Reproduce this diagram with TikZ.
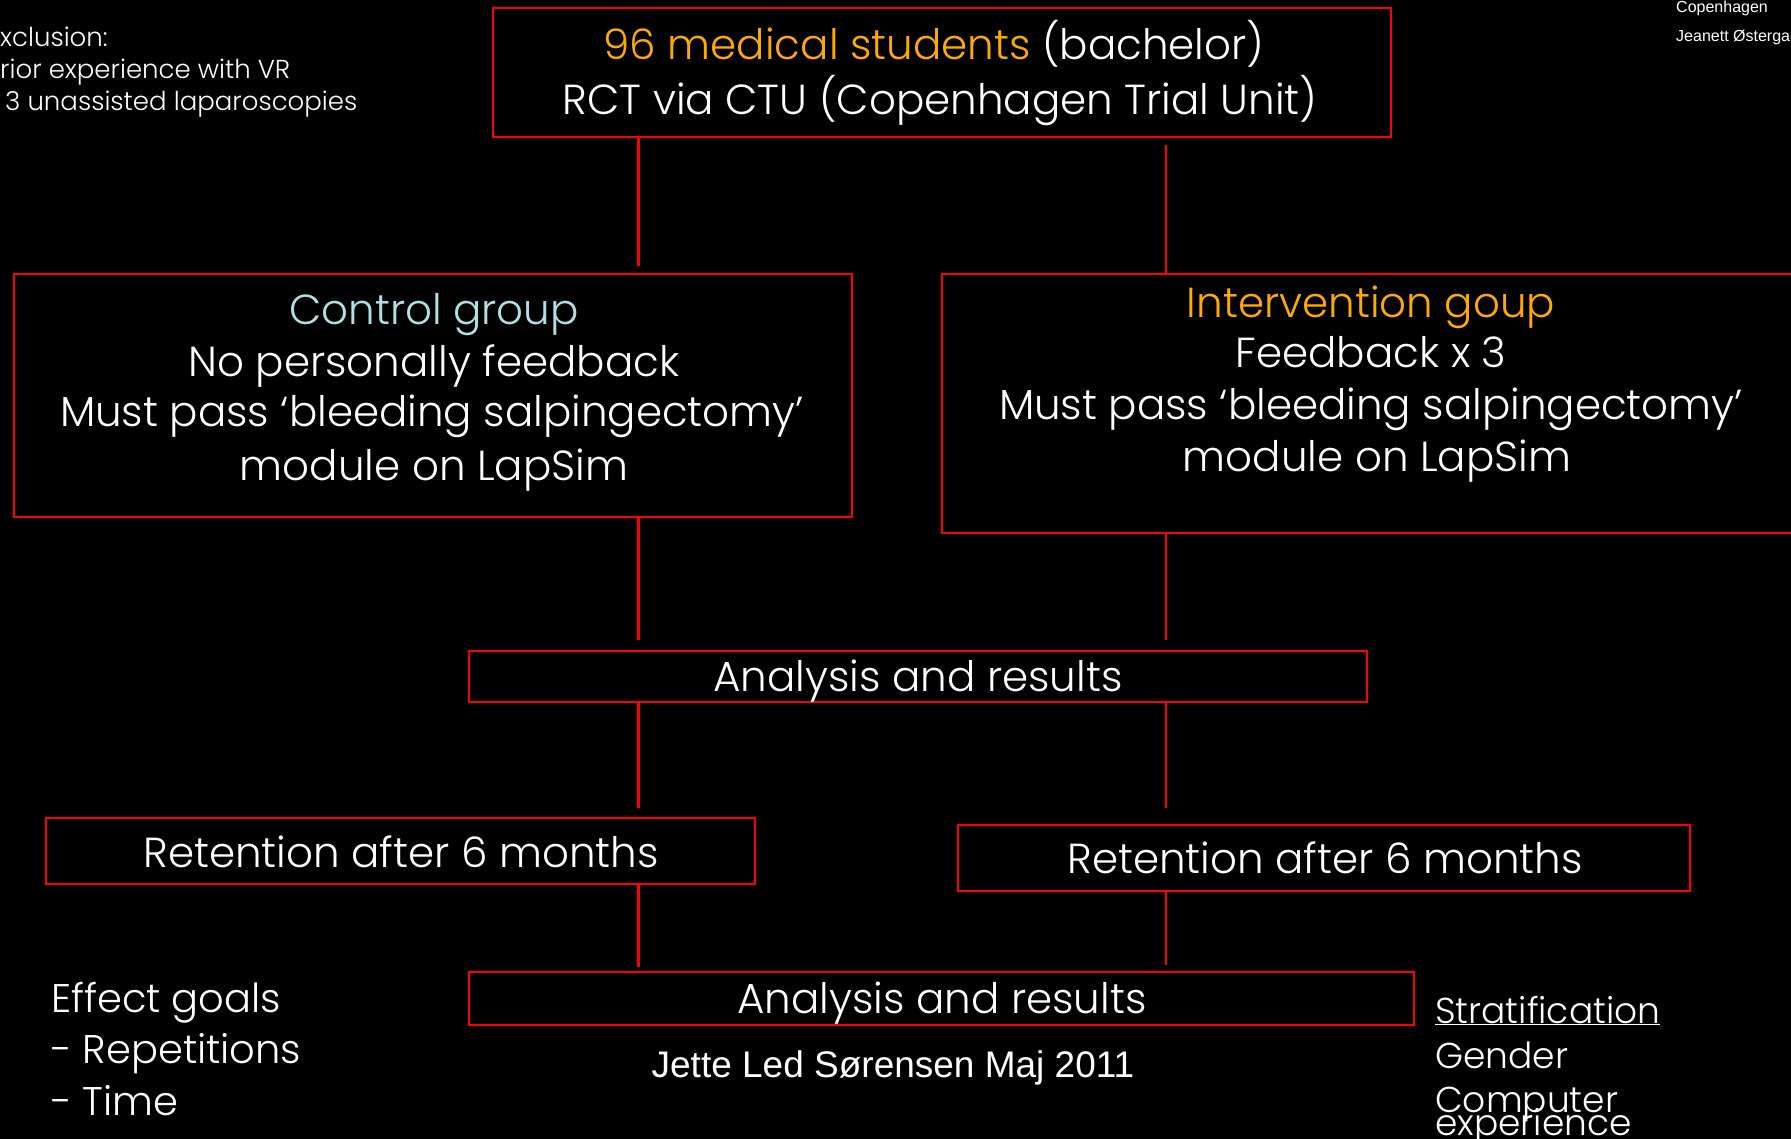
\documentclass[tikz,border=0pt]{standalone}
\usepackage{fontspec}
\setmainfont{Poppins}[UprightFont={* Light}]
\newfontfamily\arialf{Liberation Sans}
\newcommand\fz[1]{\fontsize{#1}{#1}\selectfont}
\definecolor{boxred}{HTML}{FF0000}
\definecolor{orng}{HTML}{FFAA00}
\definecolor{pcyan}{HTML}{B0E0E6}
\begin{document}
\begin{tikzpicture}[x=1pt,y=-1pt,
  box/.style={draw=boxred,line width=2.5pt,inner sep=0pt,anchor=center},
  conn/.style={draw=boxred,line width=2.5pt},
  txt/.style={text=white,inner sep=0pt,anchor=base,font=\fz{42}},
  ltxt/.style={text=white,inner sep=0pt,anchor=base west}]
\fill[black] (0,0) rectangle (1791,1139);
\useasboundingbox (0,0) rectangle (1791,1139);

% boxes
\node[box,minimum width=898pt,minimum height=129pt] (top) at (942,72.5) {};
\node[box,minimum width=838pt,minimum height=243pt] (ctrl) at (433,395.5) {};
\node[box,minimum width=858pt,minimum height=259pt] (intv) at (1371,403.5) {};
\node[box,minimum width=898pt,minimum height=51pt] (an1) at (918,676.5) {};
\node[box,minimum width=709pt,minimum height=66pt] (retL) at (400.5,851) {};
\node[box,minimum width=732pt,minimum height=66pt] (retR) at (1324,858) {};
\node[box,minimum width=945pt,minimum height=53pt] (an2) at (941.5,998.5) {};

% box texts
\node[txt] (t1) at (934,60) {\textcolor{orng}{96 medical students} (bachelor)};
\node[txt] (t2) at (940,115) {RCT via CTU (Copenhagen Trial Unit)};
\node[txt,text=pcyan] (c1) at (434,325) {Control group};
\node[txt] (c2) at (434,377) {No personally feedback};
\node[txt] (c3) at (432,427) {Must pass ‘bleeding salpingectomy’};
\node[txt] (c4) at (434,480) {module on LapSim};
\node[txt,text=orng] (i1) at (1371,318) {Intervention goup};
\node[txt] (i2) at (1371,368) {Feedback x 3};
\node[txt] (i3) at (1371,419) {Must pass ‘bleeding salpingectomy’};
\node[txt] (i4) at (1377,471) {module on LapSim};
\node[txt] (a1) at (918,691) {Analysis and results};
\node[txt] (rl) at (401,867) {Retention after 6 months};
\node[txt] (rr) at (1325,873) {Retention after 6 months};
\node[txt] (a2) at (942,1013) {Analysis and results};

% connector end points
\coordinate (l1a) at (638.5,137); \coordinate (l1b) at (638.5,266);
\coordinate (r1a) at (1166,145);  \coordinate (r1b) at (1166,274);
\coordinate (l2a) at (638.5,517); \coordinate (l2b) at (638.5,640);
\coordinate (r2a) at (1166,533);  \coordinate (r2b) at (1166,640);
\coordinate (l3a) at (638.5,702); \coordinate (l3b) at (638.5,808);
\coordinate (r3a) at (1166,702);  \coordinate (r3b) at (1166,808);
\coordinate (l4a) at (638.5,884); \coordinate (l4b) at (638.5,967);
\coordinate (r4a) at (1166,891);  \coordinate (r4b) at (1166,965);
\foreach \p in {l1,r1,l2,r2,l3,r3,l4,r4} \draw[conn] (\p a) -- (\p b);

% side texts
\node[ltxt,font=\fz{26}] (e1) at (0,47) {xclusion:};
\node[ltxt,font=\fz{26}] (e2) at (0,79) {rior experience with VR};
\node[ltxt,font=\fz{26}] (e3) at (5,111) {3 unassisted laparoscopies};
\node[ltxt,font=\arialf\fz{16}] (k1) at (1676,13) {Copenhagen};
\node[ltxt,font=\arialf\fz{16}] (k2) at (1676,42) {Jeanett Østergaa};
\node[ltxt,font=\fz{40}] (g1) at (51,1012) {Effect goals};
\node[ltxt,font=\fz{40}] (g2) at (51,1063) {- Repetitions};
\node[ltxt,font=\fz{40}] (g3) at (51,1115) {- Time};
\node[ltxt,font=\fz{36}] (s1) at (1435,1023) {\underline{Stratification}};
\node[ltxt,font=\fz{36}] (s2) at (1435,1068) {Gender};
\node[ltxt,font=\fz{36}] (s3) at (1435,1112) {Computer};
\node[ltxt,font=\fz{36}] (s4) at (1435,1135) {experience};
\node[txt,font=\arialf\fz{37}] (sig) at (893,1077) {Jette Led Sørensen Maj 2011};
\end{tikzpicture}
\end{document}
